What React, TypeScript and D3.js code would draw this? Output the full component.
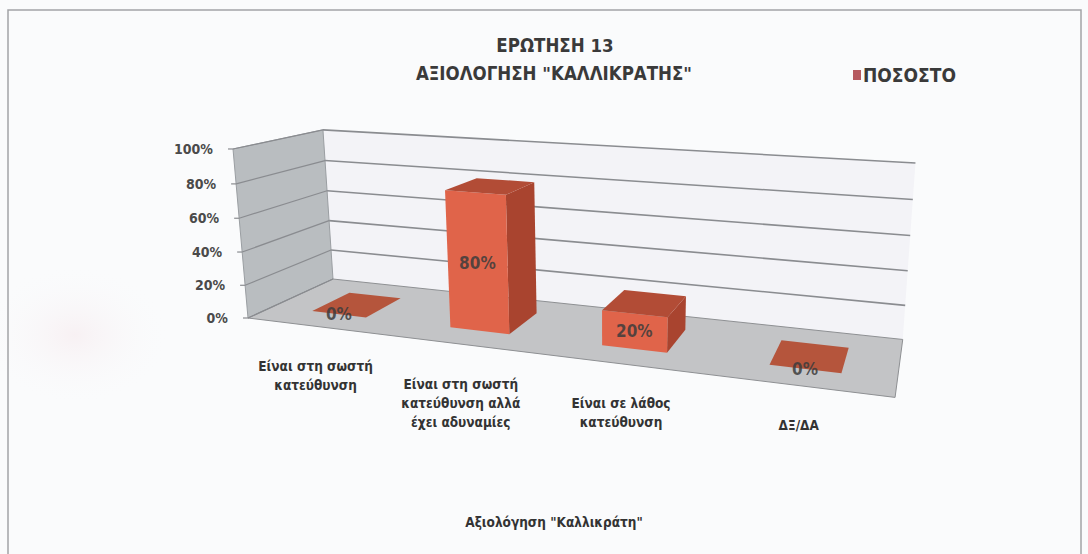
import React from 'react';
import * as d3 from 'd3';

// chart data
const titleLines = ['ΕΡΩΤΗΣΗ 13', 'ΑΞΙΟΛΟΓΗΣΗ "ΚΑΛΛΙΚΡΑΤΗΣ"'];
const seriesName = 'ΠΟΣΟΣΤΟ';
const axisTitle = 'Αξιολόγηση "Καλλικράτη"';
const categories = [
  ['Είναι στη σωστή', 'κατεύθυνση'],
  ['Είναι στη σωστή', 'κατεύθυνση αλλά', 'έχει αδυναμίες'],
  ['Είναι σε λάθος', 'κατεύθυνση'],
  ['ΔΞ/ΔΑ'],
];
const values = [0, 0.8, 0.2, 0];
const yTicks = [0, 0.2, 0.4, 0.6, 0.8, 1];

const W = 1088;
const H = 554;
const FONT = "'Liberation Sans Narrow', 'DejaVu Sans Condensed', 'Liberation Sans', sans-serif";

// perspective camera: origin (front-bottom-left) and vanishing points of the three axes
const O = [248, 318];
const VX = [-2637, -36];
const VY = [610, 4400];
const VZ = [948, -3];
const KX = -0.1832;
const KY = -0.03976;
const KZ = 0.1382;

function proj(u: number, v: number, w: number): [number, number] {
  const d = 1 + KX * u + KY * v + KZ * w;
  return [
    (O[0] + KX * u * VX[0] + KY * v * VY[0] + KZ * w * VZ[0]) / d,
    (O[1] + KX * u * VX[1] + KY * v * VY[1] + KZ * w * VZ[1]) / d,
  ];
}

const poly = (pts: [number, number][]) => d3.line()(pts) + 'Z';

const x = d3.scaleBand<number>()
  .domain(categories.map((_, i) => i))
  .range([0, 1])
  .paddingInner(0.6)
  .paddingOuter(0.3);
const y = d3.scaleLinear().domain([0, 1]).range([0, 1]);
const fmt = d3.format('.0%');

const depthFront = 0.27;
const depthBack = 0.73;

export default function App() {
  const floor = [proj(0, 0, 0), proj(1, 0, 0), proj(1, 0, 1), proj(0, 0, 1)] as [number, number][];
  const leftWall = [proj(0, 0, 0), proj(0, 1, 0), proj(0, 1, 1), proj(0, 0, 1)] as [number, number][];
  const backWall = [proj(0, 0, 1), proj(1, 0, 1), proj(1, 1, 1), proj(0, 1, 1)] as [number, number][];

  return (
    <div style={{ position: 'absolute', left: 0, top: 0 }}>
      <svg width={W} height={H} style={{ display: 'block', background: '#fafbfc' }}>
        <defs>
          <radialGradient id="blot" cx="0.5" cy="0.5" r="0.5">
            <stop offset="0" stopColor="#f7eef1" stopOpacity="0.8" />
            <stop offset="1" stopColor="#fafbfc" stopOpacity="0" />
          </radialGradient>
        </defs>
        <ellipse cx={75} cy={335} rx={95} ry={70} fill="url(#blot)" />
        <rect x={8} y={10} width={1073} height={560} fill="none" stroke="#a2a4a6" strokeWidth={1.5} />

        {/* walls and floor */}
        <path d={poly(backWall)} fill="#f3f3f7" />
        <path d={poly(leftWall)} fill="#b9bdc0" stroke="#9a9ea2" strokeWidth={1} />
        <path d={poly(floor)} fill="#c3c4c6" stroke="#8e9093" strokeWidth={1} />

        {/* gridlines */}
        {yTicks.map((t) => {
          const a = proj(0, y(t), 0);
          const b = proj(0, y(t), 1);
          const c = proj(1, y(t), 1);
          return (
            <g key={'g' + t}>
              <path d={d3.line()([a, b])!} stroke="#8a8c90" strokeWidth={1.2} fill="none" />
              {t > 0 && <path d={d3.line()([b, c])!} stroke="#8a8c90" strokeWidth={1.6} fill="none" />}
              <line x1={a[0] - 5} y1={a[1]} x2={a[0]} y2={a[1]} stroke="#8a8c90" strokeWidth={1.2} />
              <text x={a[0] - 20} y={a[1]} dy="0.35em" textAnchor="end" fontFamily={FONT}
                fontWeight="bold" fontSize={14} fill="#4a4a4a">{fmt(t)}</text>
            </g>
          );
        })}

        {/* bars */}
        {values.map((val, i) => {
          const u0 = x(i)!;
          const u1 = u0 + x.bandwidth();
          const h = y(val);
          const top = [proj(u0, h, depthFront), proj(u1, h, depthFront), proj(u1, h, depthBack), proj(u0, h, depthBack)] as [number, number][];
          const front = [proj(u0, 0, depthFront), proj(u1, 0, depthFront), proj(u1, h, depthFront), proj(u0, h, depthFront)] as [number, number][];
          const side = [proj(u1, 0, depthFront), proj(u1, 0, depthBack), proj(u1, h, depthBack), proj(u1, h, depthFront)] as [number, number][];
          const lp = proj((u0 + u1) / 2, h / 2, depthFront);
          return (
            <g key={'b' + i}>
              {val > 0 && <path d={poly(side)} fill="#a9442f" />}
              {val > 0 && <path d={poly(front)} fill="#e0644a" />}
              <path d={poly(top)} fill={val > 0 ? '#b24c36' : '#b5553c'} />
              <text x={lp[0]} y={lp[1]} dy="0.35em" textAnchor="middle" fontFamily={FONT}
                fontWeight="bold" fontSize={17} fill="#3c3c3c" fillOpacity={0.85}>{fmt(val)}</text>
            </g>
          );
        })}

        {/* category labels */}
        {categories.map((lines, i) => {
          const p = proj(x(i)! + x.bandwidth() / 2, 0, 0);
          return (
            <text key={'c' + i} x={p[0]} y={p[1] + 40} textAnchor="middle" fontFamily={FONT}
              fontWeight="bold" fontSize={13.5} fill="#333">
              {lines.map((l, k) => (
                <tspan key={k} x={p[0]} dy={k === 0 ? '0.35em' : 19}>{l}</tspan>
              ))}
            </text>
          );
        })}

        {/* titles */}
        <text x={555} y={46} dy="0.35em" textAnchor="middle" fontFamily={FONT} fontWeight="bold"
          fontSize={18.5} fill="#3a3a3a">{titleLines[0]}</text>
        <text x={554} y={74} dy="0.35em" textAnchor="middle" fontFamily={FONT} fontWeight="bold"
          fontSize={18.5} fill="#3a3a3a">{titleLines[1]}</text>
        <text x={554} y={522} dy="0.35em" textAnchor="middle" fontFamily={FONT} fontWeight="bold"
          fontSize={13.5} fill="#333">{axisTitle}</text>

        {/* legend */}
        <rect x={853} y={70} width={8} height={10} fill="#b65a60" />
        <text x={863} y={75} dy="0.35em" fontFamily={FONT} fontWeight="bold" fontSize={19}
          fill="#3a3a3a">{seriesName}</text>
      </svg>
    </div>
  );
}
